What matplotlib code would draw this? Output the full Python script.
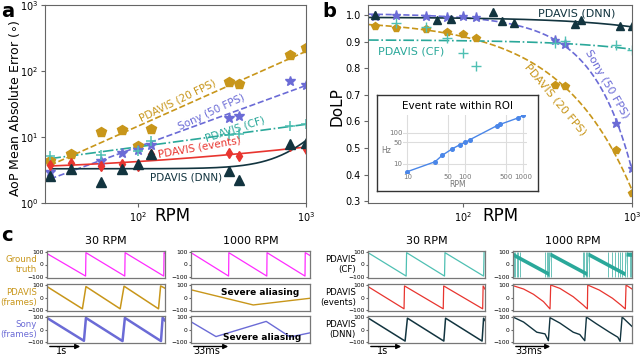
import os
import numpy as np
import matplotlib
matplotlib.use('Agg')
import matplotlib.pyplot as plt
from matplotlib.ticker import FixedLocator, NullLocator, FuncFormatter

plt.rcParams['font.family'] = 'DejaVu Sans'
plt.rcParams['mathtext.fontset'] = 'dejavusans'

# ---------------- data: panel a ----------------
rpm = [30, 40, 60, 80, 100, 120, 350, 400, 800, 1000]
a_pdavis20 = [4.3, 5.6, 12.1, 12.9, 7.4, 13.2, 68, 64, 175, 221]
a_sony = [3.0, np.nan, 4.3, 5.7, 6.3, 7.6, 19.3, 20.5, 71, 62]
a_cf = [5.2, np.nan, 5.4, np.nan, 6.2, 8.6, 10.8, 11.0, 14.8, 15.9]
a_events = [3.7, 4.0, 3.6, 3.9, 3.6, 5.5, 5.8, 5.1, 7.2, 6.6]
a_dnn = [2.6, 3.3, 2.05, 3.3, 3.9, 5.6, 3.1, 2.25, 7.8, 8.1]

# ---------------- data: panel b ----------------
b_pdavis20 = [0.959, 0.950, 0.946, 0.937, 0.929, 0.912, 0.737, 0.733, 0.492, 0.331]
b_sony = [0.996, 1.0, 0.996, 0.994, 0.996, 0.991, 0.908, 0.890, 0.595, 0.425]
b_cf = [np.nan, 0.969, 0.956, 0.912, 0.858, 0.808, 0.896, 0.903, 0.887, 0.870]
b_dnn_rpm = [30, 70, 85, 150, 170, 200, 460, 500, 850, 1000]
b_dnn = [1.0, 0.981, 0.984, 1.012, 0.979, 0.972, 0.966, 0.981, 0.959, 0.959]

# inset
ins_rpm = [10, 30, 40, 60, 80, 100, 120, 350, 400, 800, 1000]
ins_rate = [5.7, 11.8, 19, 31, 41, 49, 60, 168, 186, 295, 360]

# ---------------- data: panel c (time as fraction of window, AoP in deg) ----------------
gt30_t = [0, 0.327, 0.330, 0.659, 0.662, 0.989, 0.992, 1.0]
gt30_y = [85, -90, 92, -90, 92, -90, 92, 88]
fr30_t = [0, 0.30, 0.33, 0.62, 0.653, 0.945, 0.963, 1.0]
fr30_y = [85, -88, 85, -88, 88, -88, 90, 72]
sony30_t = [0, 0.313, 0.33, 0.64, 0.66, 0.966, 0.98, 1.0]
sony30_y = [90, -88, 90, -90, 90, -90, 92, 70]
gt1000_t = [0, 0.316, 0.318, 0.637, 0.639, 0.958, 0.960, 1.0]
gt1000_y = [92, -90, 92, -90, 92, -90, 92, 70]
fr1000_t = [0, 0.523, 1.0]
fr1000_y = [60, -58, -6]
sony1000_t = [0, 0.21, 0.632, 0.833, 1.0]
sony1000_y = [60, -55, 63, -58, -26]
cf30_t = [0, 0.004, 0.326, 0.330, 0.654, 0.658, 0.988, 0.992]
cf30_y = [-95, 90, -90, 92, -90, 92, -90, 95]
ev30_t = [0, 0.308, 0.312, 0.643, 0.647, 0.98, 0.984, 1.0]
ev30_y = [85, -88, 90, -88, 90, -88, 90, 65]
dnn30_t = [0, 0.317, 0.337, 0.648, 0.663, 0.975, 0.988, 1.0]
dnn30_y = [90, -90, 88, -90, 88, -90, 88, 70]
cf1000_t = [0, 0.30, 0.31, 0.62, 0.63, 0.94, 0.95, 1.0]
cf1000_y = [78, -72, 82, -72, 82, -72, 82, 78]
cf1000_halfwidth = 16
cf1000_spikes = [0.005, 0.015, 0.03, 0.045, 0.06, 0.27, 0.285, 0.295, 0.305, 0.32,
                 0.59, 0.60, 0.61, 0.62, 0.64, 0.80, 0.83, 0.86, 0.88, 0.90, 0.92,
                 0.94, 0.96, 0.98, 0.995]
ev1000_t = [0, 0.089, 0.172, 0.256, 0.311, 0.317, 0.394, 0.506, 0.589, 0.625,
            0.628, 0.725, 0.836, 0.906, 0.944, 0.95, 1.0]
ev1000_y = [92, 66, 25, -32, -89, 97, 71, 6, -58, -89, 97, 58, -6, -58, -89, 97, 66]
dnn1000_t = [0, 0.089, 0.2, 0.269, 0.297, 0.311, 0.394, 0.506, 0.561, 0.603,
             0.617, 0.7, 0.811, 0.881, 0.9, 0.917, 1.0]
dnn1000_y = [97, 58, -21, -34, -87, 92, 50, -21, -39, -87, 97, 45, -21, -60, -92, 97, 24]

# ---------------- colours ----------------
GOLD = '#c8961a'
SLATE = '#6b6bd6'
TEAL = '#2aa89a'
TEAL_L = '#4fc0b3'
RED = '#e8352f'
DARK = '#12343f'
MAG = '#ff2bff'
SPINE = '#666666'

W, H = 640, 357
fig = plt.figure(figsize=(6.4, 3.57), dpi=100)


def px_axes(x0, y0, x1, y1, **kw):
    return fig.add_axes([x0 / W, 1 - y1 / H, (x1 - x0) / W, (y1 - y0) / H], **kw)


def ftext(x, y, s, **kw):
    return fig.text(x / W, 1 - y / H, s, **kw)


def style_spines(ax, c=SPINE, lw=0.8):
    for s in ax.spines.values():
        s.set_color(c)
        s.set_linewidth(lw)


def logfmt(v, pos):
    return r'$10^{%d}$' % int(round(np.log10(v)))

# ================= panel a =================
ax = px_axes(45, 5, 306, 203)
x = np.array(rpm, float)
xx = np.geomspace(30, 1000, 200)


def fit_loglog(xv, yv, deg):
    xv = np.asarray(xv, float); yv = np.asarray(yv, float)
    m = ~np.isnan(yv)
    p = np.polyfit(np.log10(xv[m]), np.log10(yv[m]), deg)
    return 10 ** np.polyval(p, np.log10(xx))


def fit_lin(xv, yv, deg, grid, power=1):
    xv = np.asarray(xv, float) ** power; yv = np.asarray(yv, float)
    m = ~np.isnan(yv)
    p = np.polyfit(xv[m], yv[m], deg)
    return np.polyval(p, np.asarray(grid) ** power)

ax.plot(xx, fit_loglog(x, a_pdavis20, 1), '--', color=GOLD, lw=1.2)
ax.plot(xx, fit_loglog(x, a_sony, 1), '--', color=SLATE, lw=1.2)
ax.plot(xx, fit_loglog(x, a_cf, 1), '-.', color=TEAL, lw=1.2)
ax.plot(xx, fit_loglog(x, a_events, 2), '-', color=RED, lw=1.2)
ax.plot(xx, fit_lin(x, a_dnn, 1, xx, power=3), '-', color=DARK, lw=1.2)

ax.plot(x, a_pdavis20, 'p', color=GOLD, ms=7, ls='none')
ax.plot(x, a_sony, '*', color=SLATE, ms=7.5, ls='none')
ax.plot(x, a_cf, '+', color=TEAL_L, ms=7.5, mew=1.1, ls='none')
ax.plot(x, a_events, 'd', color=RED, ms=5.5, ls='none')
ax.plot(x, a_dnn, '^', color=DARK, ms=6.5, ls='none')

ax.set_xscale('log'); ax.set_yscale('log')
ax.set_xlim(27.9, 1000); ax.set_ylim(1, 1000)
ax.xaxis.set_major_locator(FixedLocator([100, 1000]))
ax.yaxis.set_major_locator(FixedLocator([1, 10, 100, 1000]))
ax.xaxis.set_minor_locator(NullLocator()); ax.yaxis.set_minor_locator(NullLocator())
ax.xaxis.set_major_formatter(FuncFormatter(logfmt))
ax.yaxis.set_major_formatter(FuncFormatter(logfmt))
ax.tick_params(labelsize=7, length=3, color=SPINE, pad=2)
ax.set_xlabel('RPM', fontsize=12)
ax.xaxis.set_label_coords(0.487, -0.02)
ax.set_ylabel(r'AoP Mean Absolute Error ($\circ$)', fontsize=9)
ax.yaxis.set_label_coords(-0.09, 0.48)
style_spines(ax)

ftext(178, 101, 'PDAVIS (20 FPS)', color=GOLD, fontsize=7.5, rotation=26,
      ha='center', va='center', rotation_mode='anchor')
ftext(212, 112, 'Sony (50 FPS)', color=SLATE, fontsize=7.5, rotation=25,
      ha='center', va='center', rotation_mode='anchor')
ftext(235, 129, 'PDAVIS (CF)', color=TEAL, fontsize=7.5, rotation=18,
      ha='center', va='center', rotation_mode='anchor')
ftext(199, 147, 'PDAVIS (events)', color=RED, fontsize=7.5, rotation=10,
      ha='center', va='center', rotation_mode='anchor')
ftext(186, 177, 'PDAVIS (DNN)', color=DARK, fontsize=7.5,
      ha='center', va='center')

# ================= panel b =================
bx = px_axes(368, 5, 632, 203)
gb = np.geomspace(27.4, 1000, 200)
bx.plot(gb, fit_lin(x, b_pdavis20, 2, gb), '--', color=GOLD, lw=1.2)
bx.plot(gb, fit_lin(x, b_sony, 2, gb), '--', color=SLATE, lw=1.2)
bx.plot(gb, fit_lin(x, b_cf, 1, gb), '-.', color=TEAL, lw=1.2)
bx.plot(gb, fit_lin(b_dnn_rpm, b_dnn, 1, gb), '-', color=DARK, lw=1.2)

bx.plot(x, b_pdavis20, 'p', color=GOLD, ms=5.5, ls='none')
bx.plot(x, b_sony, '*', color=SLATE, ms=6.5, ls='none')
bx.plot(x, b_cf, '+', color=TEAL_L, ms=7, mew=1.0, ls='none')
bx.plot(b_dnn_rpm, b_dnn, '^', color=DARK, ms=5.5, ls='none')

bx.set_xscale('log')
bx.set_xlim(27.4, 1000); bx.set_ylim(0.293, 1.038)
bx.xaxis.set_major_locator(FixedLocator([100, 1000]))
bx.xaxis.set_minor_locator(NullLocator())
bx.xaxis.set_major_formatter(FuncFormatter(logfmt))
bx.set_yticks([0.3, 0.4, 0.5, 0.6, 0.7, 0.8, 0.9, 1.0])
bx.yaxis.set_major_formatter(FuncFormatter(lambda v, p: '%.1f' % v))
bx.tick_params(labelsize=7, length=3, color=SPINE, pad=2)
bx.set_xlabel('RPM', fontsize=12)
bx.xaxis.set_label_coords(0.5, -0.02)
bx.set_ylabel('DoLP', fontsize=11)
bx.yaxis.set_label_coords(-0.088, 0.485)
style_spines(bx)

ftext(577, 14, 'PDAVIS (DNN)', color=DARK, fontsize=8, ha='center', va='center')
ftext(411, 51, 'PDAVIS (CF)', color=TEAL, fontsize=8, ha='center', va='center')
ftext(607, 84, 'Sony (50 FPS)', color=SLATE, fontsize=8, rotation=-60,
      ha='center', va='center', rotation_mode='anchor')
ftext(555, 100, 'PDAVIS (20 FPS)', color=GOLD, fontsize=8, rotation=-50,
      ha='center', va='center', rotation_mode='anchor')

# inset
box = px_axes(377, 95, 538, 191)
box.set_xticks([]); box.set_yticks([])
box.set_facecolor('white')
style_spines(box, c='#333333', lw=1.0)
ftext(458, 106, 'Event rate within ROI', fontsize=7.5, ha='center', va='center')

ins = px_axes(403, 115, 527, 173)
ins.set_facecolor('none')
ins.plot(ins_rpm, ins_rate, '-o', color='#4a86e8', lw=1.0, ms=2.6)
ins.set_xscale('log'); ins.set_yscale('log')
ins.set_xlim(8.4, 1160); ins.set_ylim(5.15, 370)
ins.xaxis.set_major_locator(FixedLocator([10, 50, 100, 500, 1000]))
ins.yaxis.set_major_locator(FixedLocator([10, 50, 100]))
ins.xaxis.set_minor_locator(NullLocator()); ins.yaxis.set_minor_locator(NullLocator())
ins.xaxis.set_major_formatter(FuncFormatter(lambda v, p: '%d' % v))
ins.yaxis.set_major_formatter(FuncFormatter(lambda v, p: '%d' % v))
ins.grid(True, color='#dddddd', lw=0.8)
ins.tick_params(length=0, labelsize=5, labelcolor='#777777', pad=0.5)
for s in ins.spines.values():
    s.set_visible(False)
ftext(458, 184.5, 'RPM', fontsize=5.5, color='#777777', ha='center', va='center')
ftext(386, 150, 'Hz', fontsize=5.5, color='#777777', ha='center', va='center')

# ================= panel c =================
rows = [(251, 278), (284, 311), (316, 343)]
cols = [(47, 165), (191, 310), (368, 485), (513, 632)]


def small_ax(ci, ri):
    a = px_axes(cols[ci][0], rows[ri][0], cols[ci][1], rows[ri][1])
    a.set_xlim(0, 1); a.set_ylim(-105, 105)
    a.set_xticks([])
    a.set_yticks([-100, 0, 100])
    a.tick_params(axis='y', labelsize=4.3, length=1.5, pad=1, color=SPINE)
    style_spines(a, c='#777777', lw=0.9)
    return a

c = small_ax(0, 0); c.plot(gt30_t, gt30_y, color=MAG, lw=0.9)
c = small_ax(0, 1); c.plot(fr30_t, fr30_y, color=GOLD, lw=1.1)
c = small_ax(0, 2); c.plot(sony30_t, sony30_y, color=SLATE, lw=1.8)
c = small_ax(1, 0); c.plot(gt1000_t, gt1000_y, color=MAG, lw=0.9)
c = small_ax(1, 1); c.plot(fr1000_t, fr1000_y, color=GOLD, lw=1.0)
c.text(0.58, 0.68, 'Severe aliasing', transform=c.transAxes, fontsize=6.5,
       fontweight='bold', ha='center', va='center')
c = small_ax(1, 2); c.plot(sony1000_t, sony1000_y, color=SLATE, lw=1.0)
c.text(0.60, 0.22, 'Severe aliasing', transform=c.transAxes, fontsize=6.5,
       fontweight='bold', ha='center', va='center')
c = small_ax(2, 0); c.plot(cf30_t, cf30_y, color=TEAL_L, lw=0.9)
c = small_ax(2, 1); c.plot(ev30_t, ev30_y, color=RED, lw=0.9)
c = small_ax(2, 2); c.plot(dnn30_t, dnn30_y, color=DARK, lw=1.1)
c = small_ax(3, 0)
cy = np.array(cf1000_y, float)
c.fill_between(cf1000_t, cy - cf1000_halfwidth, cy + cf1000_halfwidth, color=TEAL, lw=0)
c.vlines(cf1000_spikes, -95, 95, color=TEAL, lw=0.6, alpha=0.8)
c = small_ax(3, 1); c.plot(ev1000_t, ev1000_y, color=RED, lw=0.9)
c = small_ax(3, 2); c.plot(dnn1000_t, dnn1000_y, color=DARK, lw=1.0)

for (x0, x1), title in zip(cols, ['30 RPM', '1000 RPM', '30 RPM', '1000 RPM']):
    ftext((x0 + x1) / 2, 241, title, fontsize=8, ha='center', va='center')

left_labels = [('Ground\ntruth', GOLD), ('PDAVIS\n(frames)', GOLD), ('Sony\n(frames)', SLATE)]
right_labels = [('PDAVIS\n(CF)', 'black'), ('PDAVIS\n(events)', 'black'), ('PDAVIS\n(DNN)', 'black')]
for (r0, r1), (s, col) in zip(rows, left_labels):
    ftext(37, (r0 + r1) / 2, s, fontsize=6.2, color=col, ha='right', va='center',
          linespacing=1.1, multialignment='right')
for (r0, r1), (s, col) in zip(rows, right_labels):
    ftext(356, (r0 + r1) / 2, s, fontsize=6.2, color=col, ha='right', va='center',
          linespacing=1.1, multialignment='right')

for (x0, x1), lab in zip(cols, ['1s', '33ms', '1s', '33ms']):
    L = 36 if lab == '1s' else 40
    fig.add_artist(matplotlib.patches.FancyArrowPatch(
        (x0 / W, 1 - 346.5 / H), ((x0 + L) / W, 1 - 346.5 / H),
        transform=fig.transFigure, arrowstyle='-|>', mutation_scale=7,
        color='black', lw=1.0))
    ftext(x0 + L * 0.4, 356.5, lab, fontsize=7, ha='center', va='bottom')

# panel letters
ftext(1, 2, 'a', fontsize=14, fontweight='bold', va='top', ha='left')
ftext(322, 2, 'b', fontsize=14, fontweight='bold', va='top', ha='left')
ftext(1, 226, 'c', fontsize=14, fontweight='bold', va='top', ha='left')

fig.savefig('out.png', dpi=100)
